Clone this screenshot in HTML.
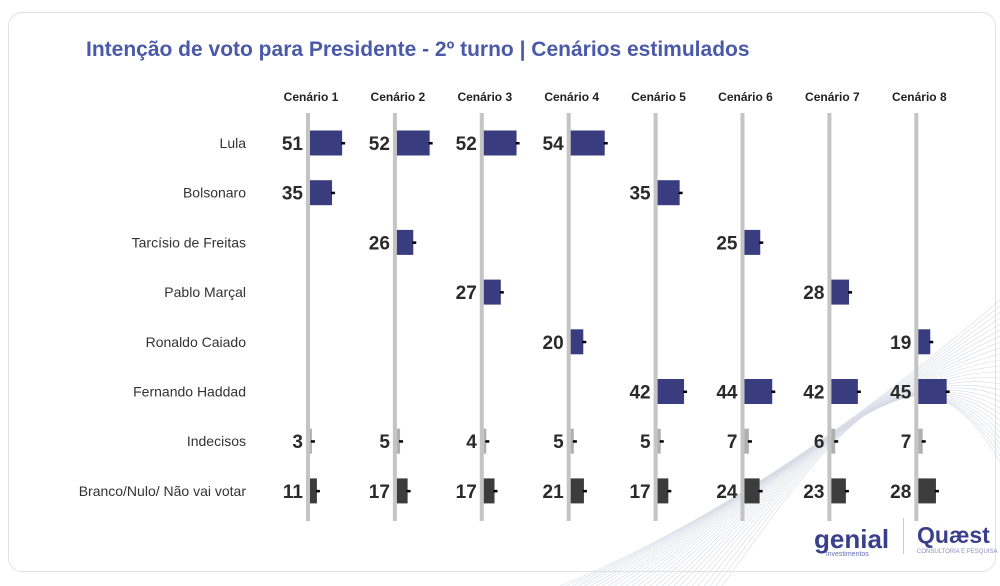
<!DOCTYPE html>
<html><head><meta charset="utf-8">
<style>
body{margin:0;width:1000px;height:586px;background:#fff;font-family:"Liberation Sans",sans-serif;overflow:hidden;position:relative}
#card{position:absolute;left:8px;top:12px;width:986px;height:558px;border:1px solid #e2e2e2;border-radius:14px;background:#fff}
#title{position:absolute;left:86px;top:38px;font-size:21px;font-weight:bold;color:#4b5aa8;white-space:nowrap}
svg{position:absolute;left:0;top:0}
</style></head><body>
<div id="card"></div>
<div id="title">Intenção de voto para Presidente - 2º turno | Cenários estimulados</div>
<svg id="c" width="1000" height="586"></svg>
<script>
const scenarios=["Cenário 1","Cenário 2","Cenário 3","Cenário 4","Cenário 5","Cenário 6","Cenário 7","Cenário 8"];
const candidates=["Lula","Bolsonaro","Tarcísio de Freitas","Pablo Marçal","Ronaldo Caiado","Fernando Haddad","Indecisos","Branco/Nulo/ Não vai votar"];
const lula=[51,52,52,54,null,null,null,null];
const bolsonaro=[35,null,null,null,35,null,null,null];
const tarcisio=[null,26,null,null,null,25,null,null];
const marcal=[null,null,27,null,null,null,28,null];
const caiado=[null,null,null,20,null,null,null,19];
const haddad=[null,null,null,null,42,44,42,45];
const indecisos=[3,5,4,5,5,7,6,7];
const branco=[11,17,17,21,17,24,23,28];
const series=[lula,bolsonaro,tarcisio,marcal,caiado,haddad,indecisos,branco];
const NS="http://www.w3.org/2000/svg";
const svg=document.getElementById('c');
const colX=i=>308+i*86.9;
const rowY=j=>143+j*49.7;
const w=v=>v*0.63;
function mk(t,a){const e=document.createElementNS(NS,t);for(const k in a)e.setAttribute(k,a[k]);svg.appendChild(e);return e;}
// decorative wave lines bottom right
for(let k=0;k<28;k++){
  const p=mk('path',{d:`M ${560+k*6} 586 C ${720+k*4} ${520-k*3}, ${860+k*2} ${420-k*4}, 1000 ${300+k*6}`,fill:'none',stroke:'#d8dae6','stroke-width':0.6});
  
  
}
scenarios.forEach((s,i)=>{
  const t=mk('text',{x:colX(i)+3,y:101,'text-anchor':'middle','font-size':12,'font-weight':'bold',fill:'#222'});
  t.textContent=s;
  
  
  const l=mk('rect',{x:colX(i)-2,y:113,width:4,height:408,fill:'#c4c4c4'});
  
  
});
candidates.forEach((c,j)=>{
  const t=mk('text',{x:246,y:rowY(j)+5,'text-anchor':'end','font-size':14,fill:'#333'});
  t.textContent=c;
  
  
  series[j].forEach((v,i)=>{
    if(v==null)return;
    const col=j<6?'#393d80':(j==6?'#b0b0b0':'#3c3c3c');
    const r=mk('rect',{x:colX(i)+2,y:rowY(j)-12.5,width:w(v),height:25,fill:col});
    
    
    const d=mk('rect',{x:colX(i)+2+w(v)-1,y:rowY(j)-1,width:4,height:2.5,fill:'#000'});
    
    
    const n=mk('text',{x:colX(i)-5,y:rowY(j)+7,'text-anchor':'end','font-size':19,'font-weight':'bold',fill:'#2a2a2a'});
    n.textContent=v;
    
    
  });
});
const g=mk('text',{x:814,y:548,'font-size':26,'font-weight':'bold',fill:'#3a3f8c'});g.textContent='genial';


const gi=mk('text',{x:826,y:556,'font-size':7,fill:'#6670b0'});gi.textContent='investimentos';


const sep=mk('rect',{x:903,y:518,width:1,height:36,fill:'#ccc'});


const q=mk('text',{x:917,y:543,'font-size':23,'font-weight':'bold',fill:'#3a3f8c'});q.textContent='Quæst';


const qs=mk('text',{x:917,y:553,'font-size':6,fill:'#8a8fb8'});qs.textContent='CONSULTORIA E PESQUISA';


</script>
</body></html>
